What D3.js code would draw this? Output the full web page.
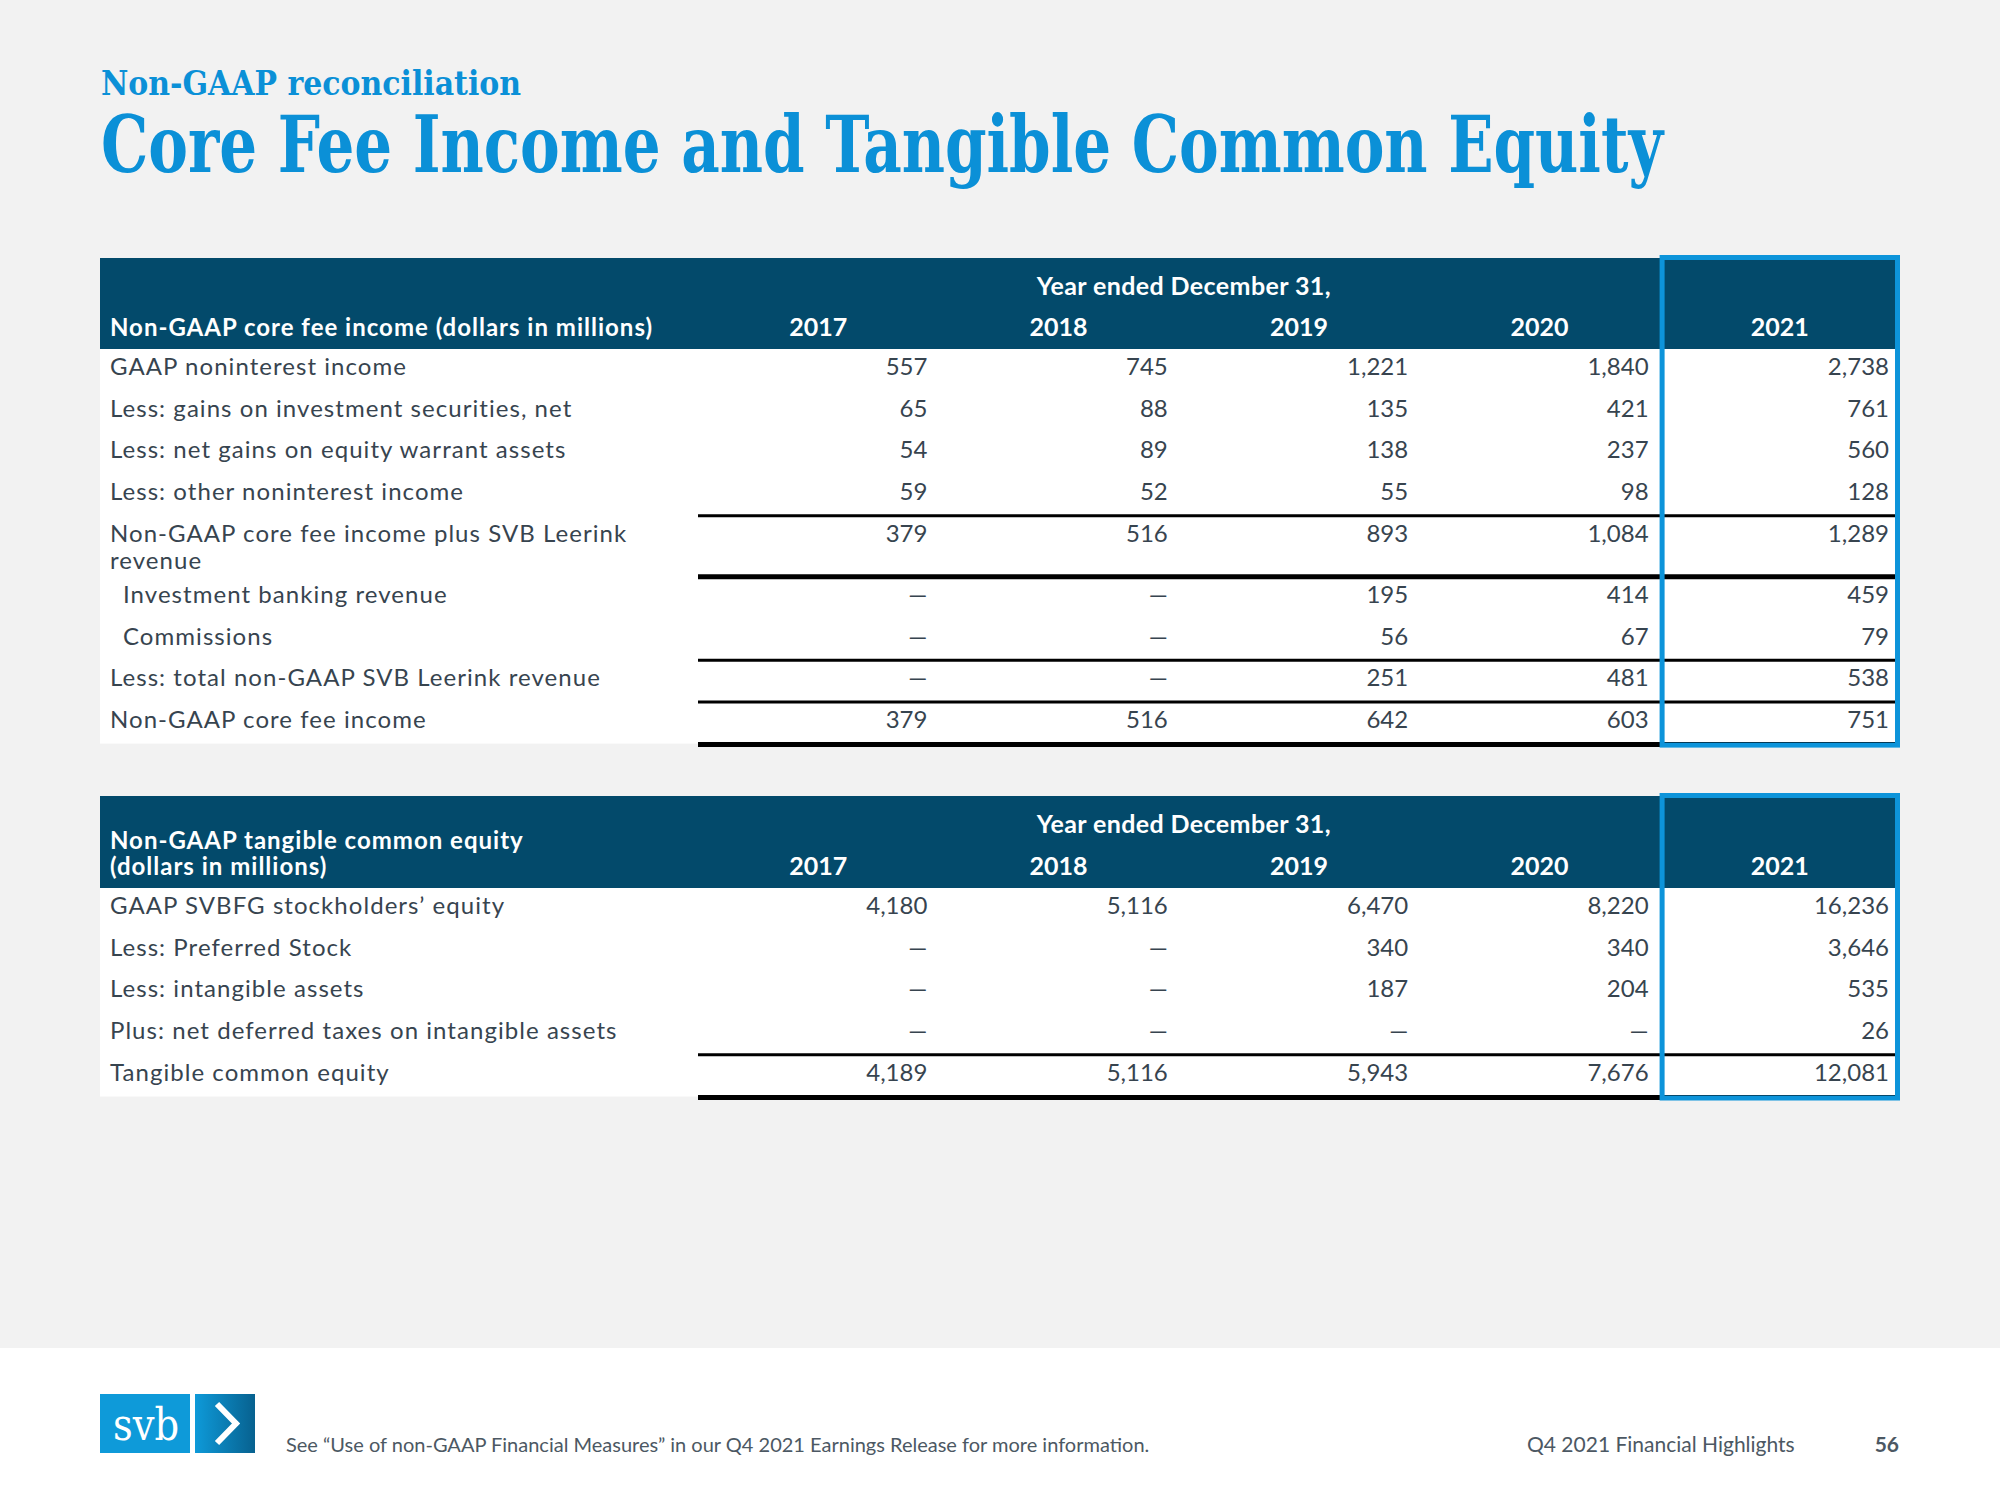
<!DOCTYPE html>
<html>
<head>
<meta charset="utf-8">
<script src="https://cdn.jsdelivr.net/npm/d3@7"></script>
<style>
  html, body { margin: 0; padding: 0; background: #f2f2f2; }
  svg { display: block; }
</style>
</head>
<body>
<svg id="chart" width="2000" height="1500"></svg>
<script>
// ---------------- DATA ----------------
const subtitle = "Non-GAAP reconciliation";
const title = "Core Fee Income and Tangible Common Equity";
const groupHeader = "Year ended December 31,";
const years = ["2017", "2018", "2019", "2020", "2021"];
const highlightYear = "2021";

// Table 1: core fee income
const coreFeeHeader = ["Non-GAAP core fee income (dollars in millions)"];
const coreFeeLabels = [
  "GAAP noninterest income",
  "Less: gains on investment securities, net",
  "Less: net gains on equity warrant assets",
  "Less: other noninterest income",
  "Non-GAAP core fee income plus SVB Leerink revenue",
  "Investment banking revenue",
  "Commissions",
  "Less: total non-GAAP SVB Leerink revenue",
  "Non-GAAP core fee income"
];
const gaapNoninterestIncome   = [557, 745, 1221, 1840, 2738];
const gainsInvestmentSecurities = [65, 88, 135, 421, 761];
const gainsEquityWarrants     = [54, 89, 138, 237, 560];
const otherNoninterestIncome  = [59, 52, 55, 98, 128];
const coreFeePlusLeerink      = [379, 516, 893, 1084, 1289];
const investmentBankingRevenue = [null, null, 195, 414, 459];
const commissions             = [null, null, 56, 67, 79];
const totalLeerinkRevenue     = [null, null, 251, 481, 538];
const coreFeeIncome           = [379, 516, 642, 603, 751];

// Table 2: tangible common equity
const tceHeader = ["Non-GAAP tangible common equity", "(dollars in millions)"];
const tceLabels = [
  "GAAP SVBFG stockholders\u2019 equity",
  "Less: Preferred Stock",
  "Less: intangible assets",
  "Plus: net deferred taxes on intangible assets",
  "Tangible common equity"
];
const stockholdersEquity   = [4180, 5116, 6470, 8220, 16236];
const preferredStock       = [null, null, 340, 340, 3646];
const intangibleAssets     = [null, null, 187, 204, 535];
const deferredTaxes        = [null, null, null, null, 26];
const tangibleCommonEquity = [4189, 5116, 5943, 7676, 12081];

const footnote = "See \u201cUse of non-GAAP Financial Measures\u201d in our Q4 2021 Earnings Release for more information.";
const footerTitle = "Q4 2021 Financial Highlights";
const pageNumber = "56";

// ---------------- LAYOUT / STYLE ----------------
const C = {
  bg: "#f2f2f2", blue: "#0b90d7", band: "#034a6b", box: "#0d94da",
  text: "#37444f", rule: "#000000", foot: "#4c5863"
};
const FONT = "Lato, 'Open Sans', sans-serif";
const SERIF = "'DejaVu Serif Condensed', 'DejaVu Serif', serif";

const svg = d3.select("#chart");
svg.append("rect").attr("width", 2000).attr("height", 1500).attr("fill", C.bg);

// titles
svg.append("text").attr("x", 101).attr("y", 95)
  .attr("font-family", SERIF).attr("font-weight", "bold").attr("font-size", 33)
  .attr("fill", C.blue).attr("textLength", 420).attr("lengthAdjust", "spacingAndGlyphs")
  .text(subtitle);
svg.append("text").attr("x", 101).attr("y", 172)
  .attr("font-family", SERIF).attr("font-weight", "bold").attr("font-size", 78)
  .attr("fill", C.blue).attr("textLength", 1562).attr("lengthAdjust", "spacingAndGlyphs")
  .text(title);

const tableLeft = 100, tableRight = 1900, labelX = 110, indentX = 123;
const x = d3.scaleBand().domain(years).range([698, 1900]);
const fmt = d3.format(",");
const ROW_H = 41.7;

function drawTable(cfg) {
  const g = svg.append("g");
  const top = cfg.top, headerBottom = top + cfg.headerH;
  const heights = cfg.rows.map(r => r.wrap ? 61 : ROW_H);
  const tops = [];
  let acc = headerBottom;
  heights.forEach(h => { tops.push(acc); acc += h; });
  const bottom = acc;
  const y = d3.scaleOrdinal().domain(d3.range(cfg.rows.length)).range(tops);

  // white body
  g.append("rect").attr("x", tableLeft).attr("y", headerBottom)
    .attr("width", tableRight - tableLeft).attr("height", bottom - headerBottom).attr("fill", "#fff");
  // header band
  g.append("rect").attr("x", tableLeft).attr("y", top)
    .attr("width", tableRight - tableLeft).attr("height", cfg.headerH).attr("fill", C.band);

  // header label
  const hl = g.append("text").attr("font-family", FONT).attr("font-weight", "bold")
    .attr("font-size", 24).attr("letter-spacing", 1.0).attr("fill", "#fff");
  cfg.header.forEach((line, i) => {
    hl.append("tspan").attr("x", labelX)
      .attr("y", headerBottom - 13 - (cfg.header.length - 1 - i) * 26).text(line);
  });
  // group header
  g.append("text").attr("x", (x("2017") + x("2021")) / 2 + 5).attr("y", top + 37)
    .attr("text-anchor", "middle").attr("font-family", FONT).attr("font-weight", "bold")
    .attr("font-size", 25).attr("letter-spacing", 0.4).attr("fill", "#fff").text(groupHeader);
  // years
  g.selectAll(".yr").data(years).join("text")
    .attr("x", d => x(d) + x.bandwidth() / 2).attr("y", headerBottom - 13)
    .attr("text-anchor", "middle").attr("font-family", FONT).attr("font-weight", "bold")
    .attr("font-size", 25).attr("fill", "#fff").text(d => d);

  // rows
  cfg.rows.forEach((r, i) => {
    const t = g.append("text").attr("font-family", FONT).attr("font-size", 24)
      .attr("letter-spacing", 1.05).attr("fill", C.text);
    const lx = r.indent ? indentX : labelX;
    if (r.wrap) {
      const words = r.label.split(" ");
      const first = words.slice(0, words.length - 1).join(" ");
      t.append("tspan").attr("x", lx).attr("y", y(i) + 26).text(first);
      t.append("tspan").attr("x", lx).attr("y", y(i) + 53).text(words[words.length - 1]);
    } else {
      t.append("tspan").attr("x", lx).attr("y", y(i) + 26).text(r.label);
    }
    g.selectAll(null).data(r.values).join("text")
      .attr("x", (d, j) => x(years[j]) + x.bandwidth() - 11)
      .attr("y", y(i) + 26).attr("text-anchor", "end")
      .attr("font-family", FONT).attr("font-size", 24).attr("fill", C.text)
      .text(d => d == null ? "\u2014" : fmt(d));
    if (r.rule) {
      g.append("line").attr("x1", x("2017")).attr("x2", tableRight)
        .attr("y1", y(i)).attr("y2", y(i))
        .attr("stroke", C.rule).attr("stroke-width", r.rule === "thick" ? 5 : 3);
    }
  });
  // bottom thick rule
  g.append("line").attr("x1", x("2017")).attr("x2", tableRight)
    .attr("y1", bottom + 1).attr("y2", bottom + 1).attr("stroke", C.rule).attr("stroke-width", 5);

  // highlight box
  g.append("rect").attr("x", x(highlightYear) + 2.5).attr("y", top - 0.5)
    .attr("width", x.bandwidth() - 5).attr("height", bottom + 2 - top)
    .attr("fill", "none").attr("stroke", C.box).attr("stroke-width", 5);
}

drawTable({
  top: 258, headerH: 91, header: coreFeeHeader,
  rows: [
    { label: coreFeeLabels[0], values: gaapNoninterestIncome },
    { label: coreFeeLabels[1], values: gainsInvestmentSecurities },
    { label: coreFeeLabels[2], values: gainsEquityWarrants },
    { label: coreFeeLabels[3], values: otherNoninterestIncome },
    { label: coreFeeLabels[4], values: coreFeePlusLeerink, rule: "thin", wrap: true },
    { label: coreFeeLabels[5], values: investmentBankingRevenue, rule: "thick", indent: true },
    { label: coreFeeLabels[6], values: commissions, indent: true },
    { label: coreFeeLabels[7], values: totalLeerinkRevenue, rule: "thin" },
    { label: coreFeeLabels[8], values: coreFeeIncome, rule: "thin" }
  ]
});

drawTable({
  top: 796, headerH: 92, header: tceHeader,
  rows: [
    { label: tceLabels[0], values: stockholdersEquity },
    { label: tceLabels[1], values: preferredStock },
    { label: tceLabels[2], values: intangibleAssets },
    { label: tceLabels[3], values: deferredTaxes },
    { label: tceLabels[4], values: tangibleCommonEquity, rule: "thin" }
  ]
});

// ---------------- FOOTER ----------------
svg.append("rect").attr("x", 0).attr("y", 1348).attr("width", 2000).attr("height", 152).attr("fill", "#fff");
const defs = svg.append("defs");
const grad = defs.append("linearGradient").attr("id", "chev").attr("x1", 0).attr("x2", 1);
grad.append("stop").attr("offset", 0).attr("stop-color", "#0e9ad9");
grad.append("stop").attr("offset", 1).attr("stop-color", "#07618f");
svg.append("rect").attr("x", 100).attr("y", 1394).attr("width", 90).attr("height", 59).attr("fill", "#0e9ad9");
svg.append("rect").attr("x", 195).attr("y", 1394).attr("width", 60).attr("height", 59).attr("fill", "url(#chev)");
svg.append("text").attr("x", 113).attr("y", 1440)
  .attr("font-family", SERIF).attr("font-size", 44).attr("fill", "#fff")
  .attr("textLength", 66).attr("lengthAdjust", "spacingAndGlyphs").text("svb");
svg.append("path").attr("d", "M217,1404 L236,1423.5 L217,1443")
  .attr("fill", "none").attr("stroke", "#fff").attr("stroke-width", 6);

svg.append("text").attr("x", 286).attr("y", 1452).attr("font-family", FONT)
  .attr("font-size", 20).attr("fill", C.foot).text(footnote);
svg.append("text").attr("x", 1527).attr("y", 1452).attr("font-family", FONT)
  .attr("font-size", 21).attr("fill", C.foot).text(footerTitle);
svg.append("text").attr("x", 1899).attr("y", 1452).attr("text-anchor", "end").attr("font-family", FONT)
  .attr("font-weight", "bold").attr("font-size", 21).attr("fill", C.foot).text(pageNumber);
</script>
</body>
</html>
